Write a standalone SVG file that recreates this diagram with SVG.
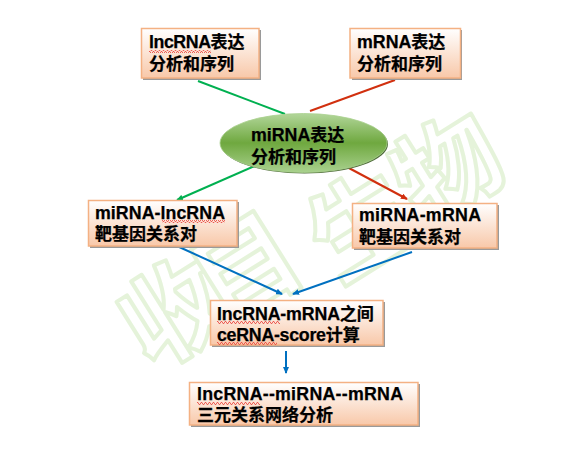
<svg xmlns="http://www.w3.org/2000/svg" width="580" height="454" viewBox="0 0 580 454">
<style>
.t{font-family:"Liberation Sans","Noto Sans CJK SC",sans-serif;font-size:17px;font-weight:700;fill:#000;stroke:#000;stroke-width:.25}
.l{font-size:17.800px}
.wm{font-family:"Noto Sans CJK SC",sans-serif;font-size:104px;font-weight:700;fill:#fff;stroke:#e5f3da;stroke-width:4;stroke-linejoin:round}
.box{fill:url(#peach);stroke:#f4b183;stroke-width:1.5}
.sh{fill:#9a9a9a}
.sq{fill:url(#squig)}
.c{fill:none;stroke-width:2}
</style>
<defs>
<linearGradient id="peach" x1="0" y1="0" x2="0" y2="1"><stop offset="0" stop-color="#fff"/><stop offset="1" stop-color="#f8c8a9"/></linearGradient>
<linearGradient id="green" x1="0" y1="0" x2="0" y2="1"><stop offset="0" stop-color="#b2d69a"/><stop offset=".5" stop-color="#6fa83f"/><stop offset="1" stop-color="#a9d18e"/></linearGradient>
<pattern id="squig" width="4" height="3" patternUnits="userSpaceOnUse"><path d="M0 2.500L1 .5L2 .5L3 2.500L4 2.500" fill="none" stroke="#e8403a" stroke-width=".8"/></pattern>
<marker id="ag" markerWidth="7" markerHeight="6" refX="6" refY="3" orient="auto" markerUnits="userSpaceOnUse"><path d="M0 0L7 3L0 6z" fill="#00b050"/></marker>
<marker id="ar" markerWidth="7" markerHeight="6" refX="6" refY="3" orient="auto" markerUnits="userSpaceOnUse"><path d="M0 0L7 3L0 6z" fill="#d1300f"/></marker>
<marker id="ab" markerWidth="7" markerHeight="6" refX="6" refY="3" orient="auto" markerUnits="userSpaceOnUse"><path d="M0 0L7 3L0 6z" fill="#0070c0"/></marker>
</defs>
<rect width="580" height="454" fill="#fff"/>
<g id="watermark">
<text class="wm" transform="translate(150 372) rotate(-32)">收</text>
<text class="wm" transform="translate(222 328) rotate(-32)">目</text>
<text class="wm" transform="translate(338 284) rotate(-32)">生</text>
<text class="wm" transform="translate(424 228) rotate(-32)">物</text>
</g>
<g id="connectors">
<path class="c" stroke="#00b050" d="M198 81L285 114"/>
<path class="c" stroke="#d1300f" d="M395 80L310 111"/>
<path class="c" stroke="#00b050" marker-end="url(#ag)" d="M257 165L177 200"/>
<path class="c" stroke="#d1300f" marker-end="url(#ar)" d="M347 167L407 199"/>
<path class="c" stroke="#0070c0" marker-end="url(#ab)" d="M177 246L282 294"/>
<path class="c" stroke="#0070c0" marker-end="url(#ab)" d="M412 252L293 294"/>
<path class="c" stroke="#0070c0" marker-end="url(#ab)" d="M286 351L286 373"/>
</g>
<g id="n1">
<rect class="sh" x="143" y="30" width="118" height="50"/><rect class="box" x="141.500" y="28.500" width="117.500" height="49.500"/>
<rect class="sq" x="149" y="50" width="62" height="3"/>
<text class="t" x="149" y="48"><tspan class="l" textLength="62">lncRNA</tspan>表达</text><text class="t" x="149" y="70">分析和序列</text>
</g>
<g id="n2">
<rect class="sh" x="352" y="30" width="110" height="50"/><rect class="box" x="350" y="28.500" width="110.500" height="49.500"/>
<text class="t" x="357" y="48"><tspan class="l">mRNA</tspan>表达</text><text class="t" x="357" y="70">分析和序列</text>
</g>
<g id="n3">
<ellipse cx="304.500" cy="144" rx="83.500" ry="29.500" fill="#4f6b3a"/><ellipse cx="303.500" cy="143" rx="83.500" ry="29.500" fill="url(#green)" stroke="#a9d18e" stroke-width=".8"/>
<text class="t" x="251" y="141"><tspan class="l">miRNA</tspan>表达</text><text class="t" x="251" y="163">分析和序列</text>
</g>
<g id="n4">
<rect class="sh" x="90" y="202" width="149" height="46"/><rect class="box" x="88.500" y="200.500" width="148.500" height="45.500"/>
<rect class="sq" x="162" y="220" width="63" height="3"/>
<text class="t l" x="95" y="219" textLength="130">miRNA-lncRNA</text><text class="t" x="95" y="240">靶基因关系对</text>
</g>
<g id="n5">
<rect class="sh" x="354" y="205" width="145" height="45"/><rect class="box" x="352.500" y="203.500" width="144.500" height="44.500"/>
<text class="t l" x="359" y="221" textLength="122">miRNA-mRNA</text><text class="t" x="359" y="243">靶基因关系对</text>
</g>
<g id="n6">
<rect class="sh" x="212" y="302" width="173" height="45"/><rect class="box" x="210.500" y="300.500" width="172.500" height="44.500"/>
<rect class="sq" x="217" y="321" width="63" height="3"/><rect class="sq" x="217" y="342" width="60" height="3"/>
<text class="t" x="217" y="320"><tspan class="l" textLength="123">lncRNA-mRNA</tspan>之间</text><text class="t" x="217" y="341"><tspan class="l" textLength="109">ceRNA-score</tspan>计算</text>
</g>
<g id="n7">
<rect class="sh" x="191" y="384" width="229" height="43"/><rect class="box" x="189.500" y="382.500" width="228.500" height="42.500"/>
<rect class="sq" x="197" y="402" width="63" height="3"/>
<text class="t l" x="197" y="400" textLength="206">lncRNA--miRNA--mRNA</text><text class="t" x="197" y="421">三元关系网络分析</text>
</g>
</svg>
